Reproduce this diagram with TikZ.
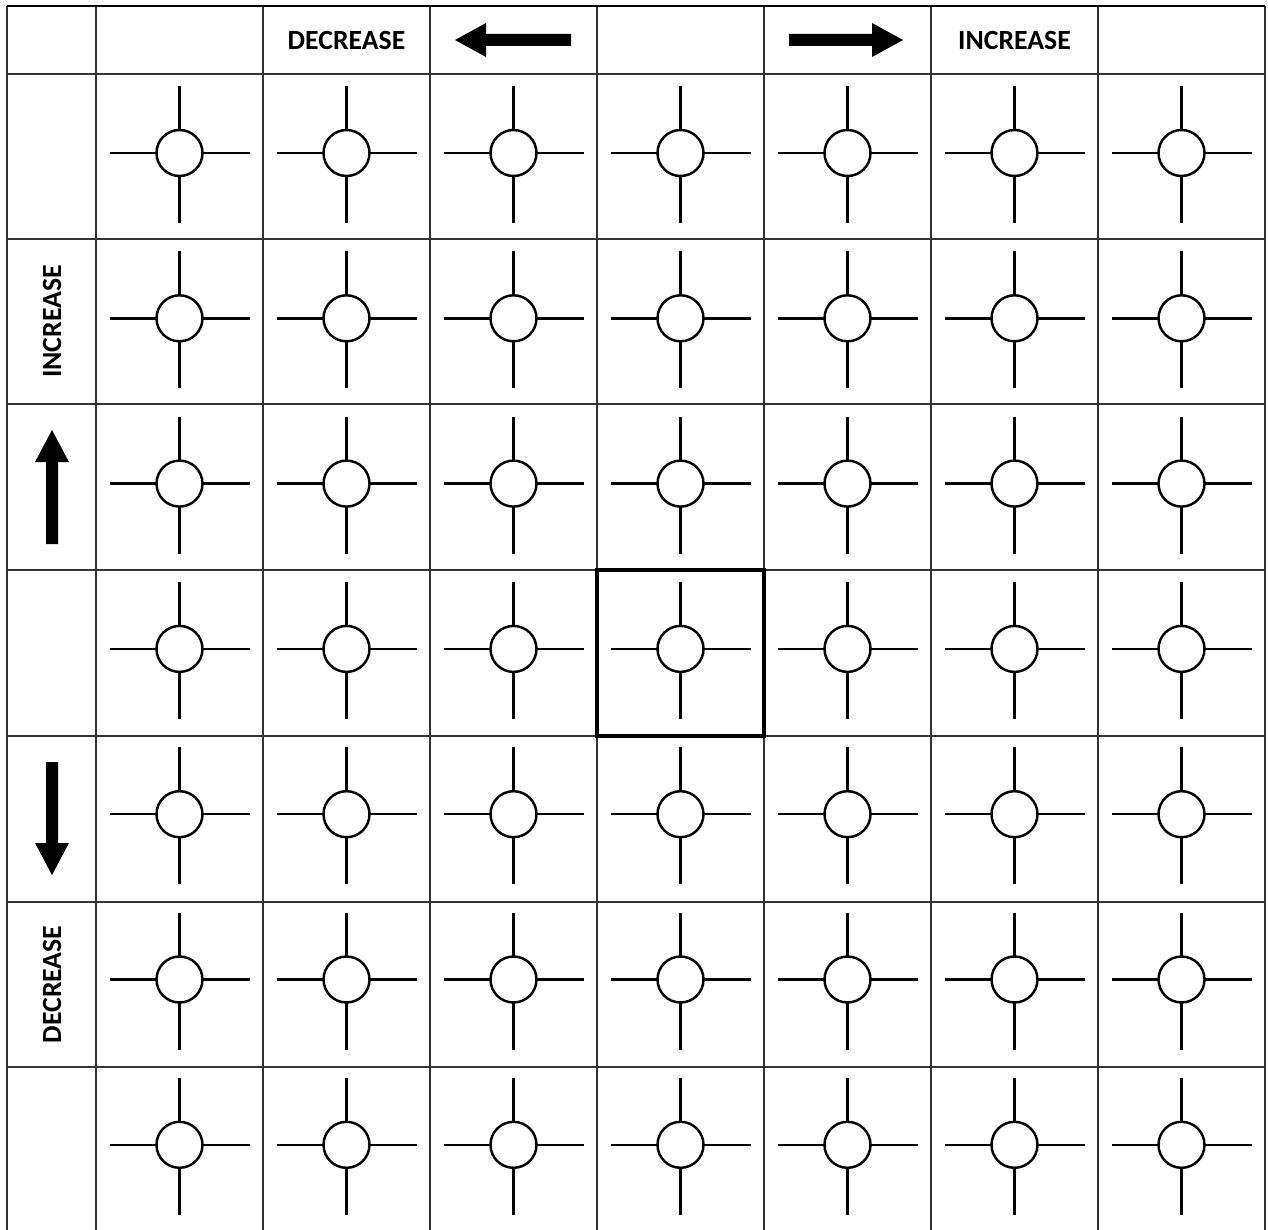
\documentclass[tikz,border=0pt]{standalone}
\usepackage{fontspec}
\setmainfont{Carlito}
\begin{document}
\begin{tikzpicture}[x=0.02cm,y=-0.02cm,
  gridline/.style={line width=1.0pt,draw=black!80},
  arm/.style={line width=1.4pt,draw=black},
  ring/.style={line width=1.4pt,draw=black,fill=white},
  label/.style={font=\fontsize{15.8}{18}\selectfont\bfseries,inner sep=0pt},
  fatarrow/.style={fill=black,draw=none}]
\useasboundingbox (0,0) rectangle (1268,1230);
% grid
\foreach \x in {7,96,263,430,597,764,931,1098,1265}
  \draw[gridline] (\x,6) -- (\x,1230);
\foreach \y in {74,239,404,570,736,902,1067}
  \draw[gridline] (7,\y) -- (1265,\y);
\draw[line width=1.6pt] (7,6) -- (1265,6);
% bold centre cell
\draw[line width=2.4pt] (597,570) rectangle (764,736);
% symbols
\foreach \cx in {179.5,346.5,513.5,680.5,847.5,1014.5,1181.5}
  \foreach \k in {0,...,6}{
    \pgfmathsetmacro{\cy}{153+165.3*\k}
    \draw[arm] (\cx-70,\cy) -- (\cx-23,\cy);
    \draw[arm] (\cx+23,\cy) -- (\cx+70,\cy);
    \draw[arm] (\cx,\cy-67) -- (\cx,\cy-23);
    \draw[arm] (\cx,\cy+23) -- (\cx,\cy+70);
    \draw[ring] (\cx,\cy) circle (23);
  }
% header labels
\node[label] (dech) at (346.5,40) {DECREASE};
\node[label] (inch) at (1014.5,40) {INCREASE};
\node[label,rotate=90] (incv) at (52,321.5) {INCREASE};
\node[label,rotate=90] (decv) at (52,984.5) {DECREASE};
% arrows
\fill[fatarrow] (455,40) -- (486,23) -- (486,34) -- (571,34) -- (571,46) -- (486,46) -- (486,57) -- cycle;
\fill[fatarrow] (903,40) -- (872,23) -- (872,34) -- (789,34) -- (789,46) -- (872,46) -- (872,57) -- cycle;
\fill[fatarrow] (52,430) -- (35,462) -- (46,462) -- (46,544) -- (58,544) -- (58,462) -- (69,462) -- cycle;
\fill[fatarrow] (52,875) -- (35,843) -- (46,843) -- (46,762) -- (58,762) -- (58,843) -- (69,843) -- cycle;
\end{tikzpicture}
\end{document}
